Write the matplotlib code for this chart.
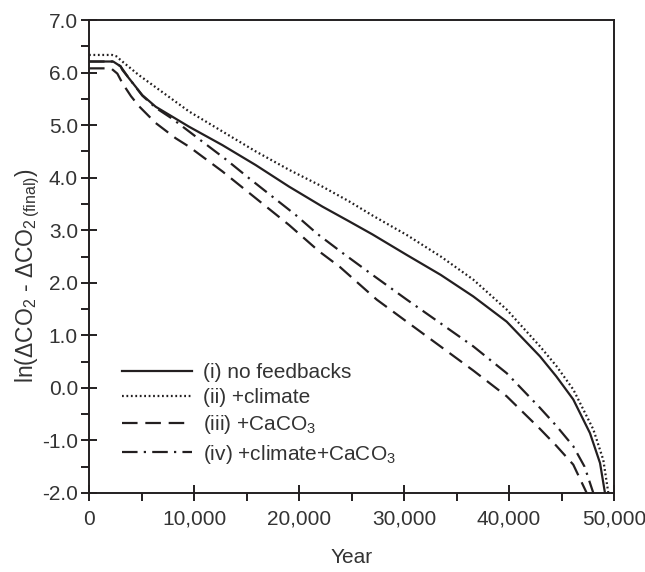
import matplotlib
matplotlib.use("Agg")
import matplotlib.pyplot as plt
from matplotlib.ticker import MultipleLocator, FuncFormatter

plt.rcParams['font.family'] = ['Liberation Sans', 'DejaVu Sans']
plt.rcParams['mathtext.fontset'] = 'custom'
plt.rcParams['mathtext.rm'] = 'Liberation Sans'
plt.rcParams['mathtext.it'] = 'Liberation Sans:italic'
plt.rcParams['mathtext.bf'] = 'Liberation Sans:bold'

INK = '#231f20'
TXT = '#333333'
FS = 15

# (i) no feedbacks
yr_i = [0, 2300, 3000, 3175, 3810, 5080, 6350, 7940, 9525, 12700, 15875, 19050,
        22225, 24765, 27000, 30260, 33500, 36600, 39780, 42950, 44500, 46120,
        47710, 48670, 49140]
v_i = [6.21, 6.21, 6.12, 6.05, 5.89, 5.57, 5.35, 5.16, 4.97, 4.62, 4.24, 3.83,
       3.45, 3.17, 2.92, 2.53, 2.15, 1.74, 1.26, 0.60, 0.22, -0.22,
       -0.86, -1.43, -2.0]

# (ii) +climate
yr_ii = [0, 2200, 2600, 3175, 4760, 6350, 9525, 12700, 15875, 19050, 22225,
         24765, 27000, 30260, 33500, 36600, 39780, 42950, 44500, 46120,
         48030, 48980, 49460]
v_ii = [6.335, 6.335, 6.31, 6.21, 5.95, 5.72, 5.26, 4.88, 4.50, 4.15, 3.83,
        3.55, 3.28, 2.91, 2.50, 2.06, 1.49, 0.79, 0.42, -0.03,
        -0.79, -1.37, -2.0]

# (iii) +CaCO3
yr_iii = [0, 2100, 2700, 3175, 4000, 4760, 6350, 8255, 9525, 12700, 15875,
          19050, 21900, 23900, 27400, 30260, 33400, 36600, 39780, 42950,
          44500, 46120, 47400]
v_iii = [6.08, 6.08, 5.98, 5.80, 5.55, 5.36, 5.04, 4.75, 4.59, 4.12, 3.61,
         3.10, 2.60, 2.30, 1.68, 1.26, 0.80, 0.33, -0.16, -0.78,
         -1.10, -1.46, -2.0]

# (iv) +climate+CaCO3
yr_iv = [0, 2300, 3000, 3810, 5080, 6350, 7940, 10640, 13020, 15240, 17460,
         19685, 21750, 24130, 27000, 30260, 33400, 36600, 39780, 42950,
         44500, 46120, 47200, 48030]
v_iv = [6.21, 6.21, 6.12, 5.89, 5.56, 5.33, 5.12, 4.71, 4.35, 3.99, 3.64,
        3.29, 2.93, 2.57, 2.15, 1.68, 1.24, 0.79, 0.28, -0.38,
        -0.72, -1.11, -1.5, -2.0]

labels = ['(i) no feedbacks', '(ii) +climate', '(iii) +CaCO$_3$',
          '(iv) +climate+CaCO$_3$']

fig = plt.figure(figsize=(6.45, 5.72), dpi=100)
ax = fig.add_axes([89/645, 1-493/572, 525/645, 473/572])

lw = 1.6
ax.plot(yr_i, v_i, color=INK, lw=lw, ls='-', label=labels[0])
ax.plot(yr_ii, v_ii, color=INK, lw=lw, ls=(0, (0.8, 1.2)), label=labels[1])
ax.plot(yr_iii, v_iii, color=INK, lw=lw, ls=(0, (7, 3.5)), label=labels[2])
ax.plot(yr_iv, v_iv, color=INK, lw=lw, ls=(0, (7, 2.8, 1, 2.8)), label=labels[3])

ax.set_xlim(0, 50000)
ax.set_ylim(-2.0, 7.0)
ax.xaxis.set_major_locator(MultipleLocator(10000))
ax.xaxis.set_minor_locator(MultipleLocator(5000))
ax.yaxis.set_major_locator(MultipleLocator(1.0))
ax.yaxis.set_minor_locator(MultipleLocator(0.5))
ax.xaxis.set_major_formatter(FuncFormatter(lambda v, p: f'{int(v):,}'))
ax.yaxis.set_major_formatter(FuncFormatter(lambda v, p: f'{v:.1f}'))

for s in ax.spines.values():
    s.set_linewidth(1.4)
    s.set_color(INK)
ax.tick_params(which='major', direction='inout', length=12, width=1.4,
               colors=INK, labelsize=FS, labelcolor=TXT)
ax.tick_params(axis='x', which='major', pad=6)
ax.tick_params(axis='y', which='major', pad=2)
ax.tick_params(which='minor', direction='out', length=6, width=1.4, colors=INK)

ax.set_xlabel('Year', fontsize=FS, color=TXT, labelpad=14)
ax.set_ylabel(r'ln($\Delta$CO$_2$ - $\Delta$CO$_{2\,\mathrm{(final)}}$)',
              fontsize=16.5, color=TXT)
ax.yaxis.set_label_coords(-0.09, 0.46)

leg = ax.legend(loc='upper left', bbox_to_anchor=(0.062, 0.275), frameon=False,
                fontsize=FS, handlelength=3.4, handletextpad=0.5,
                labelspacing=0.3, borderpad=0, borderaxespad=0)
for t in leg.get_texts():
    t.set_color(TXT)

fig.savefig('out.png', dpi=100)
